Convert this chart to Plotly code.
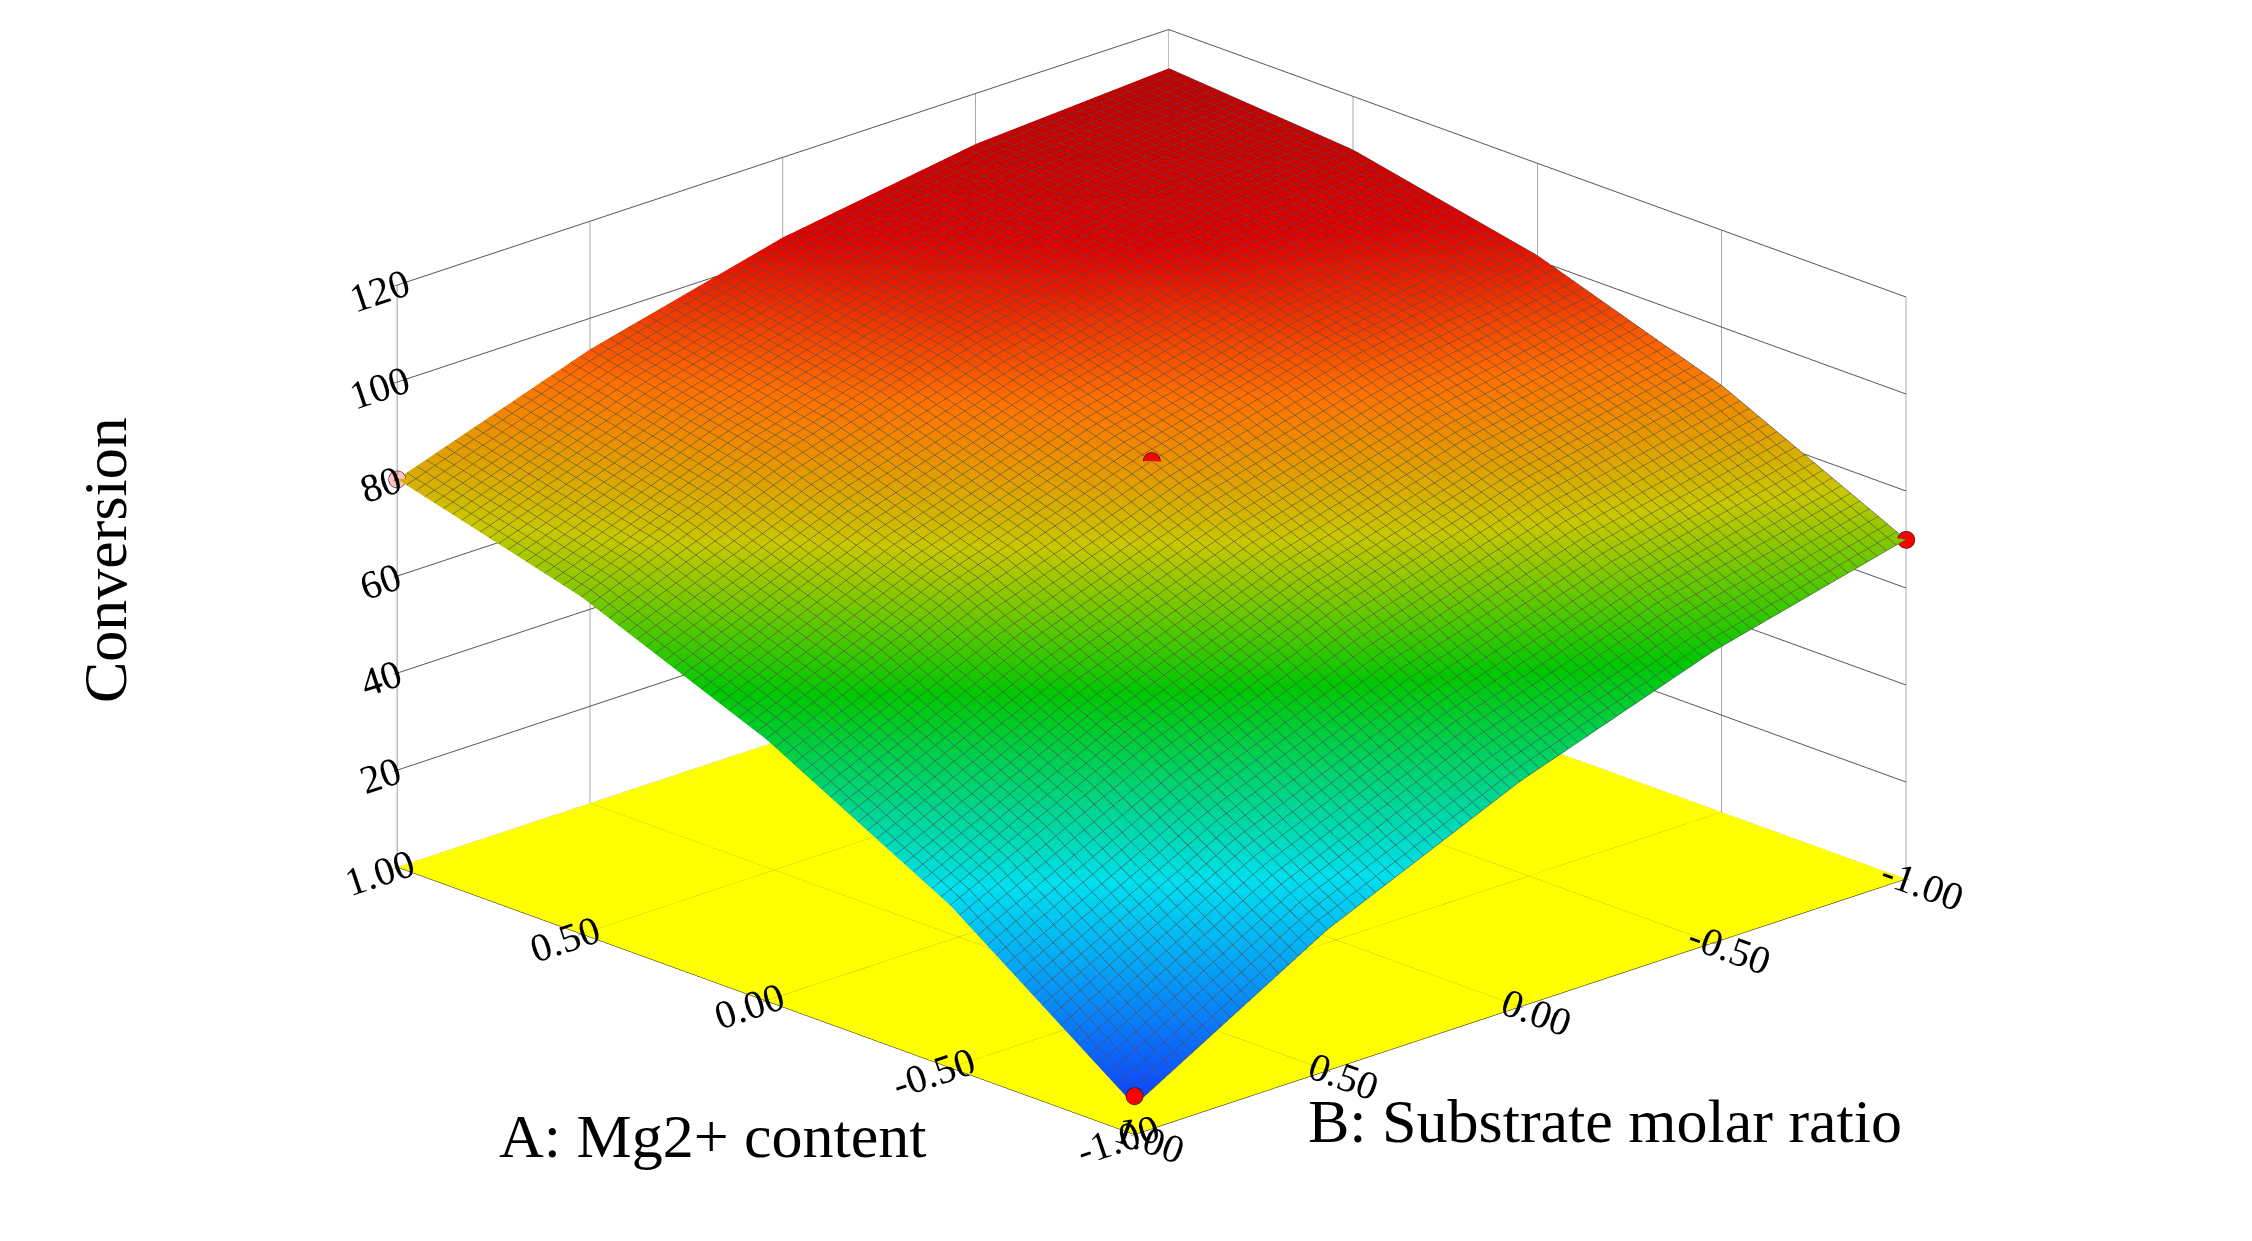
import plotly.graph_objects as go

A_vals = [-1.0, -0.5, 0.0, 0.5, 1.0]
B_vals = [-1.0, -0.5, 0.0, 0.5, 1.0]
# Conversion[i][j] for A_vals[i], B_vals[j]
conversion = [
    [70.0, 60.1, 46.5, 29.1, 6.0],
    [88.0, 80.0, 68.3, 52.8, 33.5],
    [101.0, 94.9, 85.0, 71.4, 54.0],
    [109.0, 104.8, 96.8, 85.0, 69.5],
    [112.0, 109.6, 103.5, 93.6, 80.0],
]
pts_A = [1.0, 0.0, -1.0, -1.0]
pts_B = [1.0, 0.0, -1.0, 1.0]
pts_Z = [80.0, 85.0, 70.0, 8.0]
pts_col = ["#ffc0c0", "red", "red", "red"]

zT = [[conversion[i][j] for i in range(len(A_vals))] for j in range(len(B_vals))]

cs = [[0, "#1040ff"], [0.28, "#00e0f0"], [0.5, "#00c800"], [0.66, "#c8c800"],
      [0.8, "#ff7000"], [0.92, "#e00000"], [1, "#c00000"]]

fig = go.Figure()
fig.add_trace(go.Surface(
    x=A_vals, y=B_vals, z=zT, colorscale=cs, cmin=6, cmax=112, showscale=False,
    lighting=dict(ambient=0.75, diffuse=0.5, specular=0.05),
    contours=dict(
        x=dict(show=True, start=-1, end=1, size=0.025, color="rgba(0,0,0,0.7)", width=1),
        y=dict(show=True, start=-1, end=1, size=0.025, color="rgba(0,0,0,0.7)", width=1),
    ),
))
fig.add_trace(go.Surface(
    x=[-1, 1], y=[-1, 1], z=[[0, 0], [0, 0]], showscale=False,
    colorscale=[[0, "#ffff00"], [1, "#ffff00"]],
    lighting=dict(ambient=1, diffuse=0, specular=0),
))
fig.add_trace(go.Scatter3d(
    x=pts_A, y=pts_B, z=pts_Z, mode="markers",
    marker=dict(size=10, color=pts_col, line=dict(color="black", width=1)),
))

def ax(rng, tickvals):
    return dict(title=dict(text=""), range=rng, tickvals=tickvals,
                ticktext=[f"{v:.2f}" for v in tickvals],
                tickfont=dict(family="Liberation Serif", size=22, color="black"),
                showbackground=False, gridcolor="#555", gridwidth=1,
                showline=True, linecolor="black", zeroline=False, ticks="outside",
                tickcolor="black")

fig.update_layout(
    width=2252, height=1241, paper_bgcolor="white", showlegend=False,
    margin=dict(l=0, r=0, t=0, b=0),
    scene=dict(
        domain=dict(x=[0.0, 1.0], y=[0.0, 1.0]),
        xaxis=ax([-1, 1], [-1.0, -0.5, 0.0, 0.5, 1.0]),
        yaxis=ax([-1, 1], [-1.0, -0.5, 0.0, 0.5, 1.0]),
        zaxis=dict(title=dict(text=""), range=[0, 120], tickvals=[20, 40, 60, 80, 100, 120],
                   tickfont=dict(family="Liberation Serif", size=22, color="black"),
                   showbackground=False, gridcolor="#555", showline=True, linecolor="black",
                   ticks="outside", tickcolor="black"),
        aspectmode="manual", aspectratio=dict(x=1.72, y=1.72, z=1.0),
        camera=dict(eye=dict(x=-0.88, y=0.88, z=0.38), center=dict(x=0.02, y=0.02, z=-0.08),
                    projection=dict(type="orthographic")),
    ),
    annotations=[
        dict(text="Conversion", x=0.027, y=0.555, xref="paper", yref="paper", showarrow=False,
             textangle=-90, font=dict(family="Liberation Serif", size=62, color="black")),
        dict(text="A: Mg2+ content", x=0.217, y=0.062, xref="paper", yref="paper", showarrow=False,
             font=dict(family="Liberation Serif", size=62, color="black")),
        dict(text="B: Substrate molar ratio", x=0.842, y=0.074, xref="paper", yref="paper",
             showarrow=False, font=dict(family="Liberation Serif", size=62, color="black")),
    ],
)
fig.write_html("out.html")
